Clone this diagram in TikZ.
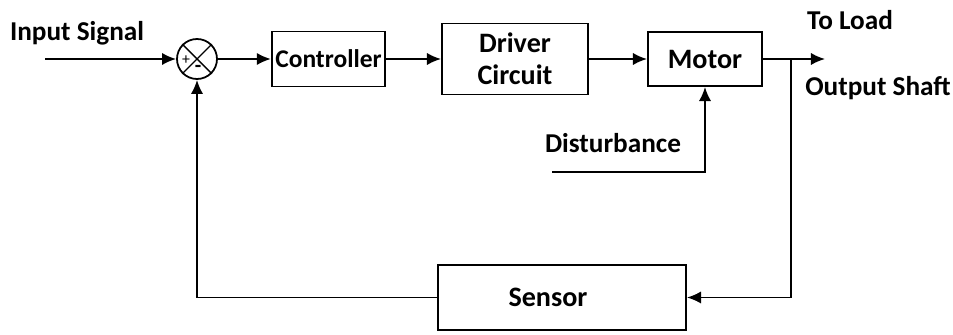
\documentclass[tikz,border=0pt]{standalone}
\usepackage{fontspec}
\setmainfont{Carlito}
\usetikzlibrary{positioning,arrows.meta}

\begin{document}
\begin{tikzpicture}[x=1cm,y=1cm,
  lbl/.style={font=\fontsize{15.5}{18}\selectfont\bfseries},
  blk/.style={draw,line width=1.1pt,inner sep=2pt,font=\fontsize{16}{18}\selectfont\bfseries},
  arr/.style={line width=1.1pt,-{Latex[length=8pt,width=7pt]}}]
  \useasboundingbox (0,0) rectangle (19.06,6.7);
  \node[lbl] (insig) at (1.54,6.04) {Input Signal};
  \coordinate (in) at (0.9,5.52);
  \node[circle,draw,line width=1pt,minimum size=0.8cm,inner sep=0pt] (sum) at (3.94,5.52) {};
  \draw[line width=0.8pt] (sum.north west) -- (sum.south east) (sum.north east) -- (sum.south west);
  \node[font=\small,inner sep=0pt] (plus) at ([xshift=-0.22cm,yshift=-0.02cm]sum.center) {+};
  \node[font=\large\bfseries,inner sep=0pt] (minus) at ([xshift=0.02cm,yshift=-0.2cm]sum.center) {-};
  \node[blk,font=\fontsize{14.5}{17}\selectfont\bfseries,minimum width=2.22cm,minimum height=1.1cm] (ctrl) at (6.57,5.52) {Controller};
  \node[blk,minimum width=2.92cm,minimum height=1.42cm,align=center] (drv) at (10.3,5.52) {Driver\\Circuit};
  \node[blk,minimum width=2.28cm,minimum height=1.08cm] (mot) at (14.1,5.52) {Motor};
  \coordinate (jn) at (15.82,5.52);
  \coordinate (out) at (16.5,5.52);
  \node[lbl] (load) at (17.0,6.3) {To Load};
  \node[lbl] (shaft) at (17.56,4.94) {Output Shaft};
  \node[lbl] (dist) at (12.26,3.84) {Disturbance};
  \coordinate (dst) at (11.04,3.26);
  \node[blk,minimum width=4.96cm,minimum height=1.3cm] (sens) at (11.24,0.75) {Sensor\hspace*{16pt}};
  \draw[arr] (in) -- (sum);
  \draw[arr] (sum) -- (ctrl);
  \draw[arr] (ctrl) -- (drv);
  \draw[arr] (drv) -- (mot);
  \draw[arr] (mot) -- (out);
  \draw[arr] (dst) -| (mot);
  \draw[arr] (jn) |- (sens);
  \draw[arr] (sens) -| (sum);
\end{tikzpicture}
\end{document}
